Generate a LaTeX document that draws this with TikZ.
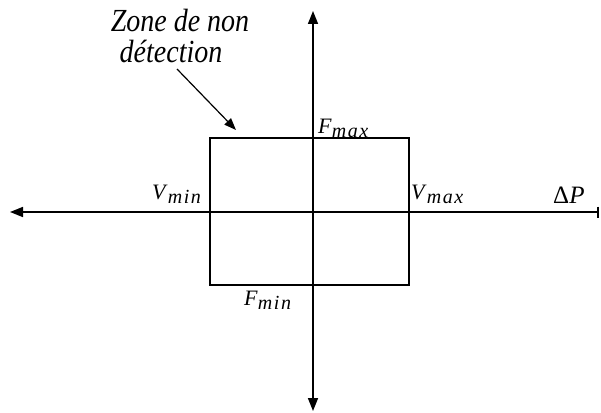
\documentclass[tikz,border=0pt]{standalone}
\usepackage{fontspec}
\setmainfont{Liberation Serif}
\newfontfamily\subfont[LetterSpace=8]{Liberation Serif}
\usetikzlibrary{arrows.meta}
\tikzset{
  axis/.style={line width=1.6pt},
  lbl/.style={font=\fontsize{22}{24}\selectfont, inner sep=0pt, anchor=base west},
  zonetxt/.style={font=\fontsize{28}{30}\selectfont\itshape, inner sep=0pt, anchor=base},
}
\newcommand{\sublbl}[2]{\textit{#1}\raisebox{-4pt}{\fontsize{20}{22}\subfont\itshape #2}}
\begin{document}
\begin{tikzpicture}[x=1pt,y=-1pt]
\useasboundingbox (0,0) rectangle (601,412);
% axes
\coordinate (L) at (10,212);
\coordinate (R) at (599,212);
\coordinate (T) at (313,11);
\coordinate (B) at (313,411);
\draw[axis,{Triangle[length=13pt,width=10pt]}-{Bar[width=11pt]}] (L) -- (R);
\draw[axis,{Triangle[length=13pt,width=10pt]}-{Triangle[length=13pt,width=10pt]}] (B) -- (T);
% rectangle
\node[draw, line width=1.6pt, minimum width=199pt, minimum height=147pt, inner sep=0pt] (box) at (309.5,211.5) {};
% labels
\node[lbl] (vmin) at (152,199) {\sublbl{V}{min}};
\node[lbl] (vmax) at (411,199) {\sublbl{V}{max}};
\node[lbl] (fmax) at (318,133) {\sublbl{F}{max}};
\node[lbl] (fmin) at (244,305) {\sublbl{F}{min}};
\node[lbl, font=\fontsize{25}{28}\selectfont] (dp) at (553,203) {Δ\textit{P}};
\node[zonetxt] (zone1) at (180,32) {\scalebox{1}[1.15]{Zone de non}};
\node[zonetxt] (zone2) at (171,62) {\scalebox{1}[1.15]{détection}};
\coordinate (arrowstart) at (177,69);
\coordinate (arrowend) at (236,130);
\draw[line width=1.2pt,-{Triangle[length=12pt,width=9pt]}] (arrowstart) -- (arrowend);
\end{tikzpicture}
\end{document}
